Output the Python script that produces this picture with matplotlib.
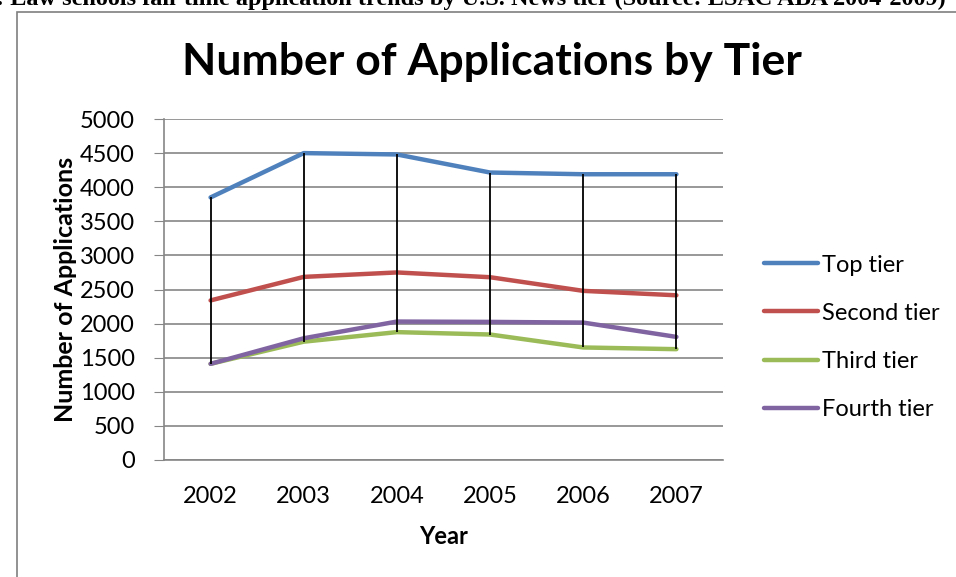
import matplotlib.pyplot as plt
from matplotlib.patches import Rectangle

years = ['2002', '2003', '2004', '2005', '2006', '2007']
top_tier = [3850, 4500, 4480, 4215, 4190, 4190]
second_tier = [2340, 2685, 2750, 2680, 2480, 2415]
third_tier = [1410, 1735, 1875, 1840, 1650, 1625]
fourth_tier = [1410, 1785, 2030, 2025, 2015, 1805]

series = [
    ('Top tier', top_tier, '#4F81BD'),
    ('Second tier', second_tier, '#C0504D'),
    ('Third tier', third_tier, '#9BBB59'),
    ('Fourth tier', fourth_tier, '#8064A2'),
]

plt.rcParams['font.family'] = ['Lato', 'DejaVu Sans']

fig = plt.figure(figsize=(9.56, 5.77), dpi=100)
ax = fig.add_axes([164 / 956, 1 - 460 / 577, (723 - 164) / 956, (460 - 119) / 577])

x = list(range(len(years)))
for name, vals, color in series:
    ax.plot(x, vals, color=color, lw=3.2, label=name, solid_capstyle='round', zorder=3)

# high-low lines
highs = [max(v) for v in zip(top_tier, second_tier, third_tier, fourth_tier)]
lows = [min(v) for v in zip(top_tier, second_tier, third_tier, fourth_tier)]
ax.vlines(x, lows, highs, color='black', lw=1.3, zorder=4)

ax.set_xlim(-0.5, len(years) - 0.5)
ax.set_ylim(0, 5000)
ax.set_yticks(range(0, 5001, 500))
ax.set_xticks(x)
ax.set_xticklabels(years)
ax.tick_params(axis='x', length=0, labelsize=17, pad=19)
ax.tick_params(axis='y', length=7, color='#868686', labelsize=17, pad=14)
ax.yaxis.grid(True, color='#868686', lw=1.2)
ax.set_axisbelow(True)
for s in ['top', 'right']:
    ax.spines[s].set_visible(False)
ax.spines['left'].set_color('#868686')
ax.spines['bottom'].set_color('#868686')
ax.spines['left'].set_linewidth(1.2)
ax.spines['bottom'].set_linewidth(1.2)

ax.set_xlabel('Year', fontsize=17, fontweight='bold', labelpad=13)
ax.set_ylabel('Number of Applications', fontsize=18, fontweight='bold', labelpad=2)

fig.text(492 / 956, 1 - 62 / 577, 'Number of Applications by Tier', fontsize=32,
         fontweight='bold', ha='center', va='center')

ax.legend(loc='center left', bbox_to_anchor=(1.035, 0.36), frameon=False, fontsize=17,
          handlelength=2.3, handletextpad=0.15, labelspacing=1.15)

# chart border and clipped caption
fig.patches.append(Rectangle((17 / 956, -0.1), 1.2, 1 - 12 / 577 + 0.1,
                             transform=fig.transFigure, fill=False,
                             edgecolor='#7F7F7F', lw=1.2))
fig.text(-4 / 956, 1 + 1 / 577, ': Law schools fall-time application trends by U.S. News tier (Source: LSAC ABA 2004-2009)',
         fontsize=17.5, fontweight='bold', family='Liberation Serif', ha='left', va='center')

fig.savefig('out.png', dpi=100)
